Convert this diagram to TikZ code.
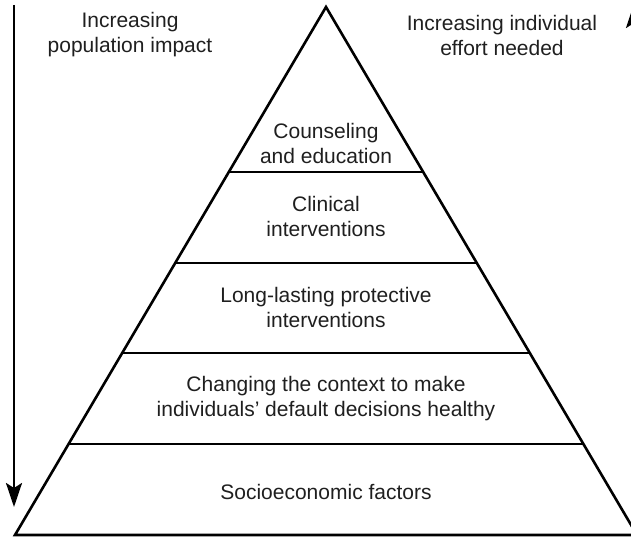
\documentclass[tikz,border=0pt]{standalone}
\usepackage{fontspec}
\setmainfont{Liberation Sans}
\usetikzlibrary{calc,arrows.meta}
\begin{document}
\begin{tikzpicture}[x=1pt,y=-1pt,
  edge/.style={line width=2.6pt, line join=miter},
  divider/.style={line width=2.6pt},
  label/.style={align=center, font=\fontsize{21}{25}\selectfont, text=black!88, inner sep=0pt},
  impact/.style={line width=2.6pt, -{Stealth[length=24pt,width=16pt,inset=5pt]}}]
\useasboundingbox (0,0) rectangle (631,537);
\clip (0,0) rectangle (631,537);
\coordinate (apex) at (326,7);
\coordinate (bl) at (15,535);
\coordinate (br) at (637,535);
\draw[edge] (apex) -- (bl) -- (br) -- cycle;
\foreach \y/\n in {172/a,263/b,353/c,444/d}{
  \coordinate (l\n) at ($(apex)!{(\y-7)/528}!(bl)$);
  \coordinate (r\n) at ($(apex)!{(\y-7)/528}!(br)$);
  \draw[divider] (l\n) -- (r\n);
}
\node[label] (t1) at (326,143) {Counseling\\and education};
\node[label] (t2) at (326,216) {Clinical\\interventions};
\node[label] (t3) at (326,307) {Long-lasting protective\\interventions};
\node[label] (t4) at (326,399) {Changing the context to make\\individuals’ default decisions healthy};
\node[label] (t5) at (326,492) {Socioeconomic factors};
\node[label] (lt) at (130,35) {Increasing\\population impact};
\node[label] (rt) at (502,35) {Increasing individual\\effort needed};
\coordinate (la) at (14,5);
\coordinate (lb) at (14,507);
\draw[impact] (la) -- (lb);
\coordinate (ra) at (634,505);
\coordinate (rb) at (634,4);
\draw[impact] (ra) -- (rb);
\end{tikzpicture}
\end{document}
